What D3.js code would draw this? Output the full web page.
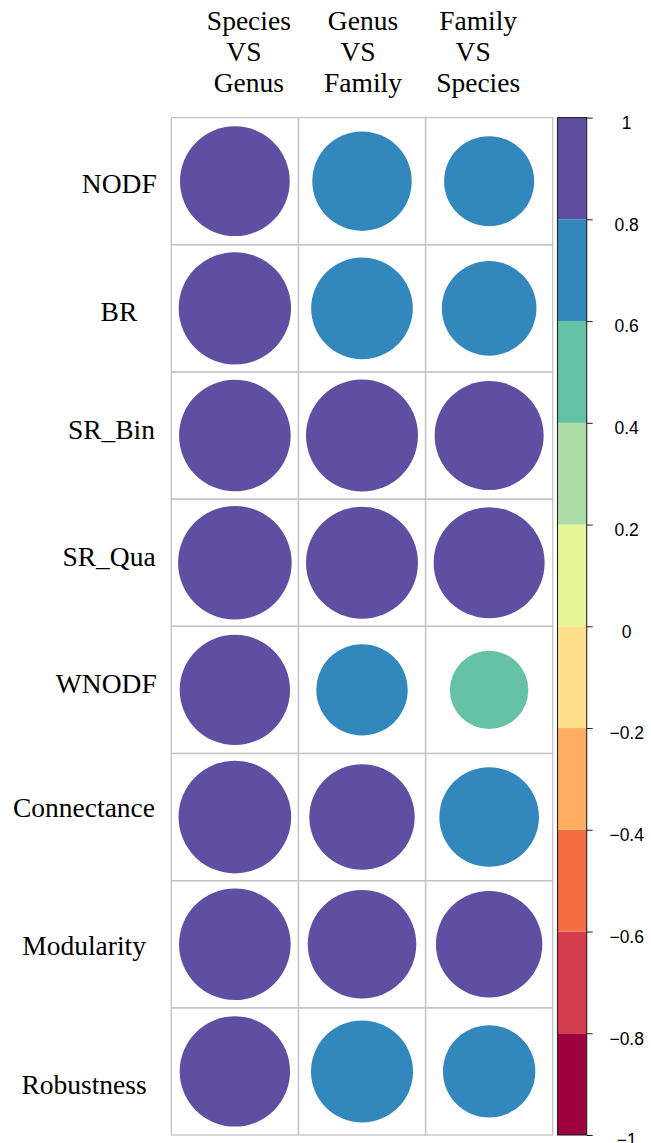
<!DOCTYPE html>
<html>
<head>
<meta charset="utf-8">
<script src="https://cdn.jsdelivr.net/npm/d3@7"></script>
<style>
  body{margin:0;background:#fff}
  svg{display:block}
  .rowlab,.collab{font-family:"Liberation Serif","Times New Roman",serif;font-size:27.5px;fill:#000}
  .cbar text{font-family:"Liberation Sans",Arial,sans-serif;font-size:17.5px;fill:#000}
  .grid rect{fill:none;stroke:#c4c4c4;stroke-width:1.3}
</style>
</head>
<body>
<div id="chart"></div>
<script>
// measures (rows) and comparisons (columns)
const rowNames=['NODF','BR','SR_Bin','SR_Qua','WNODF','Connectance','Modularity','Robustness'];
const colLines=[['Species','VS','Genus'],['Genus','VS','Family'],['Family','VS','Species']];

const speciesVsGenus=[0.92,0.965,0.952,0.986,0.93,0.969,0.952,0.93];
const genusVsFamily=[0.755,0.79,0.958,0.958,0.638,0.849,0.90,0.795];
const familyVsSpecies=[0.62,0.684,0.908,0.941,0.47,0.758,0.865,0.652];

const legendTicks=[1,0.8,0.6,0.4,0.2,0,-0.2,-0.4,-0.6,-0.8,-1];
const spectral=['#9E0142','#D53E4F','#F46D43','#FDAE61','#FEE08B','#E6F598','#ABDDA4','#66C2A5','#3288BD','#5E4FA2'];

// label nudges (the original labels do not sit exactly on the cell centres)
const rowLabEnd=[156.7,137.3,155,155.7,156.7,155,146,146.7];
const rowLabDy=[2.7,3.2,-6,-6,-5.5,-9.3,1.5,13.3];
const colLabDx=[14,1,-11];

const Wd=651,Ht=1143;
const gx0=171.3,gx1=552.7,gy0=117.6,gy1=1135;

const svg=d3.select('#chart').append('svg').attr('width',Wd).attr('height',Ht);

const cols=[speciesVsGenus,genusVsFamily,familyVsSpecies];
const cells=[];
cols.forEach((arr,j)=>arr.forEach((v,i)=>cells.push({row:rowNames[i],col:j,v})));

const x=d3.scaleBand().domain(d3.range(cols.length)).range([gx0,gx1]);
const y=d3.scaleBand().domain(rowNames).range([gy0,gy1]);
const color=d3.scaleQuantize().domain([-1,1]).range(spectral);
const r=d3.scaleSqrt().domain([0,1]).range([0,0.45*x.bandwidth()]);

// grid
svg.append('g').attr('class','grid').selectAll('rect')
  .data(cells).enter().append('rect')
  .attr('x',d=>x(d.col)).attr('y',d=>y(d.row))
  .attr('width',x.bandwidth()).attr('height',y.bandwidth());

// circles
svg.append('g').selectAll('circle')
  .data(cells).enter().append('circle')
  .attr('cx',d=>x(d.col)+x.bandwidth()/2)
  .attr('cy',d=>y(d.row)+y.bandwidth()/2)
  .attr('r',d=>r(Math.abs(d.v)))
  .attr('fill',d=>color(d.v));

// row labels
svg.append('g').selectAll('text')
  .data(rowNames).enter().append('text')
  .attr('class','rowlab')
  .attr('text-anchor','end')
  .attr('x',(d,i)=>rowLabEnd[i])
  .attr('y',(d,i)=>y(d)+y.bandwidth()/2+rowLabDy[i]+9.1)
  .text(d=>d);

// column labels (three lines each)
const ch=svg.append('g').selectAll('text')
  .data(colLines).enter().append('text')
  .attr('class','collab')
  .attr('text-anchor','middle');
ch.selectAll('tspan').data((d,j)=>d.map((t,k)=>({t,k,j}))).enter().append('tspan')
  .attr('x',d=>x(d.j)+x.bandwidth()/2+colLabDx[d.j]+(d.t==='VS'?-5:0))
  .attr('y',d=>30+d.k*31)
  .text(d=>d.t);

// colour legend
const cb={x0:557.5,w:29.2};
const ly=d3.scaleLinear().domain([-1,1]).range([gy1,gy0]);
const cbar=svg.append('g').attr('class','cbar');
cbar.selectAll('rect.seg').data(spectral).enter().append('rect')
  .attr('class','seg')
  .attr('x',cb.x0)
  .attr('y',(d,i)=>ly(-1+(i+1)*0.2))
  .attr('width',cb.w)
  .attr('height',(d,i)=>ly(-1+i*0.2)-ly(-1+(i+1)*0.2))
  .attr('fill',d=>d);
cbar.append('rect')
  .attr('x',cb.x0).attr('y',gy0).attr('width',cb.w).attr('height',gy1-gy0)
  .attr('fill','none').attr('stroke','#222').attr('stroke-width',1.1);

const fmt=d3.format('~g');
const ax=cbar.append('g').attr('transform',`translate(${cb.x0+cb.w},0)`)
  .call(d3.axisRight(ly).tickValues(legendTicks).tickSize(6).tickFormat(d=>fmt(d)));
ax.select('.domain').remove();
ax.selectAll('.tick line').attr('stroke','#222');
ax.selectAll('.tick text')
  .attr('x',40).attr('dy',null).attr('y',10.8)
  .attr('text-anchor','middle')
  .attr('font-family','"Liberation Sans",Arial,sans-serif')
  .attr('font-size','17.5px');
</script>
</body>
</html>
